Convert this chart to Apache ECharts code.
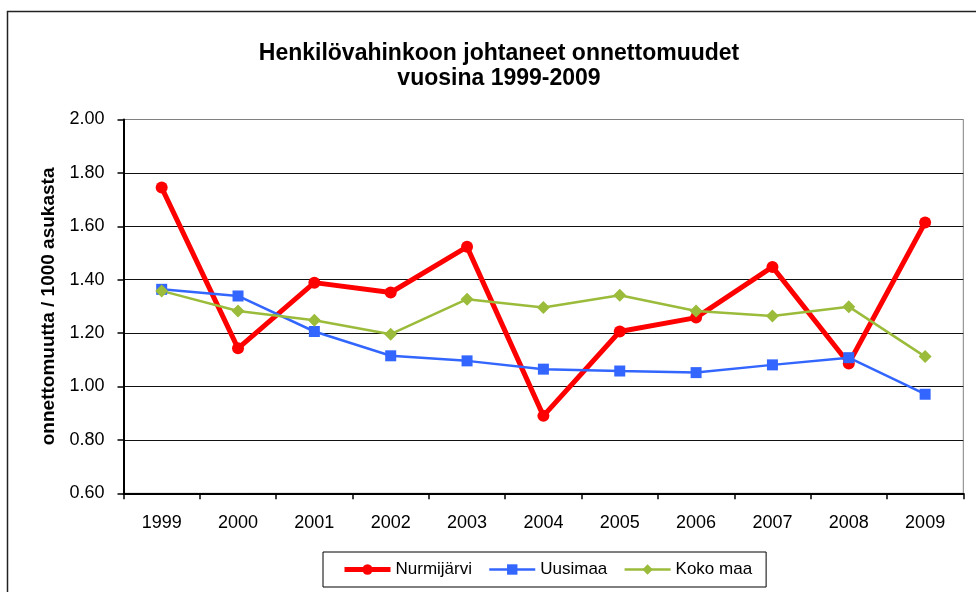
<!DOCTYPE html>
<html>
<head>
<meta charset="utf-8">
<title>Henkilövahinkoon johtaneet onnettomuudet</title>
<script src="https://cdn.jsdelivr.net/npm/echarts@6/dist/echarts.min.js"></script>
<style>
  html, body { margin: 0; padding: 0; background: #fff; }
  #chart { width: 976px; height: 592px; }
</style>
</head>
<body>
<div id="chart"></div>
<script>
// vuodet
var years = ['1999', '2000', '2001', '2002', '2003', '2004', '2005', '2006', '2007', '2008', '2009'];

// onnettomuutta / 1000 asukasta
var nurmijarvi = [1.745, 1.143, 1.389, 1.352, 1.523, 0.890, 1.206, 1.258, 1.448, 1.086, 1.614];
var uusimaa = [1.364, 1.339, 1.206, 1.115, 1.096, 1.065, 1.058, 1.052, 1.081, 1.108, 0.971];
var kokoMaa = [1.358, 1.283, 1.248, 1.196, 1.327, 1.296, 1.342, 1.283, 1.264, 1.299, 1.112];

var yTicks = { min: 0.6, max: 2.0, step: 0.2 };

var font = 'Liberation Sans, Arial, sans-serif';
var red = '#FF0000', blue = '#3366FF', green = '#9BBB3B';
var chart = echarts.init(document.getElementById('chart'));

chart.setOption({
  animation: false,
  backgroundColor: '#fff',
  textStyle: { fontFamily: font, color: '#000' },
  title: {
    text: 'Henkilövahinkoon johtaneet onnettomuudet\nvuosina 1999-2009',
    left: 494,
    top: 36,
    textAlign: 'center',
    textStyle: { fontSize: 23, fontWeight: 'bold', lineHeight: 25, color: '#000', fontFamily: font }
  },
  graphic: [
    {
      // kaavion ulkoreunus
      type: 'rect',
      shape: { x: 7.5, y: 11.5, width: 1000, height: 620 },
      style: { fill: null, stroke: '#222', lineWidth: 1.5 },
      silent: true
    }
  ],
  legend: {
    left: 323,
    top: 552,
    orient: 'horizontal',
    borderColor: '#000',
    borderWidth: 1,
    padding: [9, 14, 9, 19],
    itemGap: 16,
    itemWidth: 46,
    itemHeight: 13,
    textStyle: { fontSize: 17, color: '#000', fontFamily: font },
    data: [
      { name: 'Nurmijärvi', lineStyle: { width: 5 } },
      { name: 'Uusimaa', lineStyle: { width: 2.5 } },
      { name: 'Koko maa', lineStyle: { width: 2.5 } }
    ]
  },
  grid: {
    left: 123.5,
    top: 119.5,
    right: 12.7,
    bottom: 98.7,
    show: true,
    borderColor: '#808080',
    borderWidth: 1
  },
  xAxis: {
    type: 'category',
    data: years,
    boundaryGap: true,
    axisLine: { lineStyle: { color: '#000', width: 2 } },
    axisTick: { show: true, length: 6, inside: false, lineStyle: { color: '#000', width: 1.5 } },
    axisLabel: { fontSize: 18, color: '#000', margin: 21, fontFamily: font },
    splitLine: { show: false }
  },
  yAxis: {
    type: 'value',
    min: yTicks.min,
    max: yTicks.max,
    interval: yTicks.step,
    name: 'onnettomuutta / 1000 asukasta',
    nameLocation: 'middle',
    nameGap: 64,
    nameRotate: 90,
    nameTextStyle: { fontSize: 19, fontWeight: 'bold', color: '#000', fontFamily: font },
    axisLine: { show: true, lineStyle: { color: '#000', width: 2 } },
    axisTick: { show: true, length: 6, inside: false, lineStyle: { color: '#000', width: 1.5 } },
    axisLabel: {
      fontSize: 18,
      color: '#000',
      margin: 19,
      fontFamily: font,
      formatter: function (v) { return v.toFixed(2); }
    },
    splitLine: {
      show: true,
      lineStyle: {
        color: ['#000', '#111', '#111', '#111', '#111', '#111', '#111', '#808080'],
        width: 1.2
      }
    }
  },
  series: [
    {
      name: 'Nurmijärvi',
      type: 'line',
      data: nurmijarvi,
      symbol: 'circle',
      symbolSize: 12,
      lineStyle: { color: red, width: 5 },
      itemStyle: { color: red }
    },
    {
      name: 'Uusimaa',
      type: 'line',
      data: uusimaa,
      symbol: 'rect',
      symbolSize: 11,
      lineStyle: { color: blue, width: 2.5 },
      itemStyle: { color: blue }
    },
    {
      name: 'Koko maa',
      type: 'line',
      data: kokoMaa,
      symbol: 'diamond',
      symbolSize: [13, 13],
      lineStyle: { color: green, width: 2.5 },
      itemStyle: { color: green }
    }
  ]
});
</script>
</body>
</html>
